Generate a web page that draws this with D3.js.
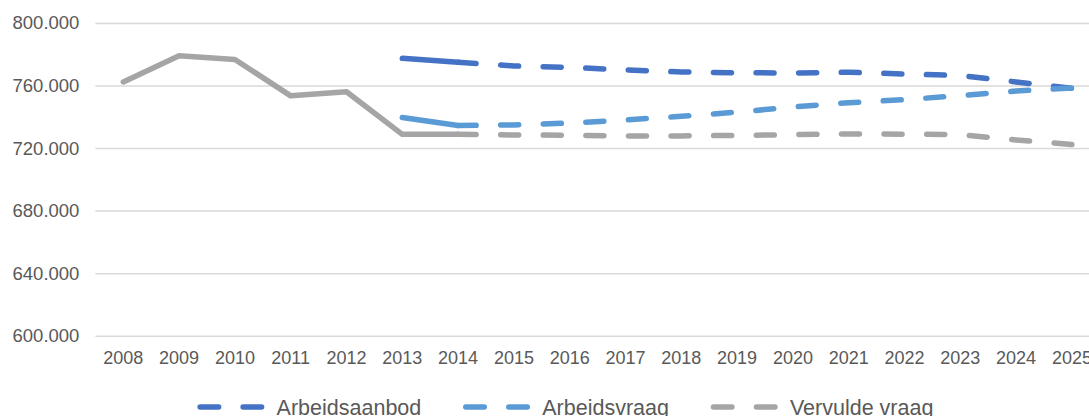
<!DOCTYPE html>
<html>
<head>
<meta charset="utf-8">
<script src="https://cdn.jsdelivr.net/npm/d3@7"></script>
<style>
  body { margin: 0; background: #fff; }
  svg { display: block; font-family: "Liberation Sans", Arial, sans-serif; }
</style>
</head>
<body>
<svg id="chart"></svg>
<script>
const years = [2008, 2009, 2010, 2011, 2012, 2013, 2014, 2015, 2016, 2017,
               2018, 2019, 2020, 2021, 2022, 2023, 2024, 2025];
const lastActual = 2014;

const arbeidsaanbod = [null, null, null, null, null, 777400, 774900, 772500, 771600, 770000,
                       768700, 768200, 768000, 768500, 767400, 766400, 762300, 758200];
const arbeidsvraag = [null, null, null, null, null, 739600, 734400, 734800, 736000, 738000,
                      740300, 743000, 746300, 749000, 751000, 753500, 756500, 758400];
const vervuldeVraag = [762300, 779000, 776700, 753400, 756000, 728800, 728800, 728400, 728200, 727800,
                       727800, 728100, 728600, 729000, 728900, 728600, 725200, 722300];

const yTicks = [600000, 640000, 680000, 720000, 760000, 800000];

const seriesNames = ["Arbeidsaanbod", "Arbeidsvraag", "Vervulde vraag"];
const seriesValues = [arbeidsaanbod, arbeidsvraag, vervuldeVraag];
const seriesColors = ["#4472C4", "#5B9BD5", "#A5A5A5"];

const width = 1089, height = 416;
const plotLeft = 95.4, band = 55.8;
const plotTop = 23, plotBottom = 335.7;

const svg = d3.select("#chart")
    .attr("width", width)
    .attr("height", height);

const nl = d3.formatLocale({decimal: ",", thousands: ".", grouping: [3], currency: ["€", ""]});
const fmt = nl.format(",.0f");

const x = d3.scaleBand()
    .domain(years)
    .range([plotLeft, plotLeft + band * years.length]);

const y = d3.scaleLinear()
    .domain([600000, 800000])
    .range([plotBottom, plotTop]);

// gridlines + y labels
const yAxis = svg.append("g")
    .attr("transform", `translate(${plotLeft},0)`)
    .call(d3.axisLeft(y).tickValues(yTicks).tickFormat(fmt)
        .tickSize(-(width - plotLeft + 20)).tickPadding(16));
yAxis.select(".domain").remove();
yAxis.selectAll(".tick line").attr("stroke", "#D9D9D9").attr("stroke-width", 1.5);
yAxis.selectAll(".tick text")
    .attr("fill", "#595959")
    .style("font-size", "18.5px");

// x labels
const xAxis = svg.append("g")
    .attr("transform", `translate(0,${plotBottom})`)
    .call(d3.axisBottom(x).tickSize(0).tickPadding(16));
xAxis.select(".domain").remove();
xAxis.selectAll(".tick text")
    .attr("fill", "#595959")
    .style("font-size", "18px");

const line = d3.line()
    .defined(d => d.v != null)
    .x(d => x(d.year) + x.bandwidth() / 2)
    .y(d => y(d.v));

const dash = "18,24.6";

seriesValues.forEach((vals, i) => {
    const pts = years.map((year, j) => ({year, v: vals[j]}));
    const actual = pts.filter(d => d.year <= lastActual);
    const forecast = pts.filter(d => d.year >= lastActual);

    svg.append("path")
        .datum(forecast)
        .attr("d", line)
        .attr("fill", "none")
        .attr("stroke", seriesColors[i])
        .attr("stroke-width", 5.5)
        .attr("stroke-linecap", "round")
        .attr("stroke-linejoin", "round")
        .attr("stroke-dasharray", dash);

    svg.append("path")
        .datum(actual)
        .attr("d", line)
        .attr("fill", "none")
        .attr("stroke", seriesColors[i])
        .attr("stroke-width", 5.5)
        .attr("stroke-linecap", "round")
        .attr("stroke-linejoin", "round");
});

// legend
const legend = svg.append("g");
let cursor = 0;
seriesNames.forEach((name, i) => {
    const g = legend.append("g").attr("transform", `translate(${cursor},0)`);
    g.append("line")
        .attr("x1", 2.5).attr("x2", 64)
        .attr("y1", 0).attr("y2", 0)
        .attr("stroke", seriesColors[i])
        .attr("stroke-width", 5.5)
        .attr("stroke-linecap", "round")
        .attr("stroke-dasharray", "18.5,24.5");
    const t = g.append("text")
        .attr("x", 79)
        .attr("y", 7.5)
        .attr("fill", "#595959")
        .style("font-size", "21.5px")
        .text(name);
    cursor += 79 + t.node().getComputedTextLength() + 42;
});
const legendWidth = cursor - 42;
legend.attr("transform", `translate(${565.5 - legendWidth / 2},407)`);
</script>
</body>
</html>
